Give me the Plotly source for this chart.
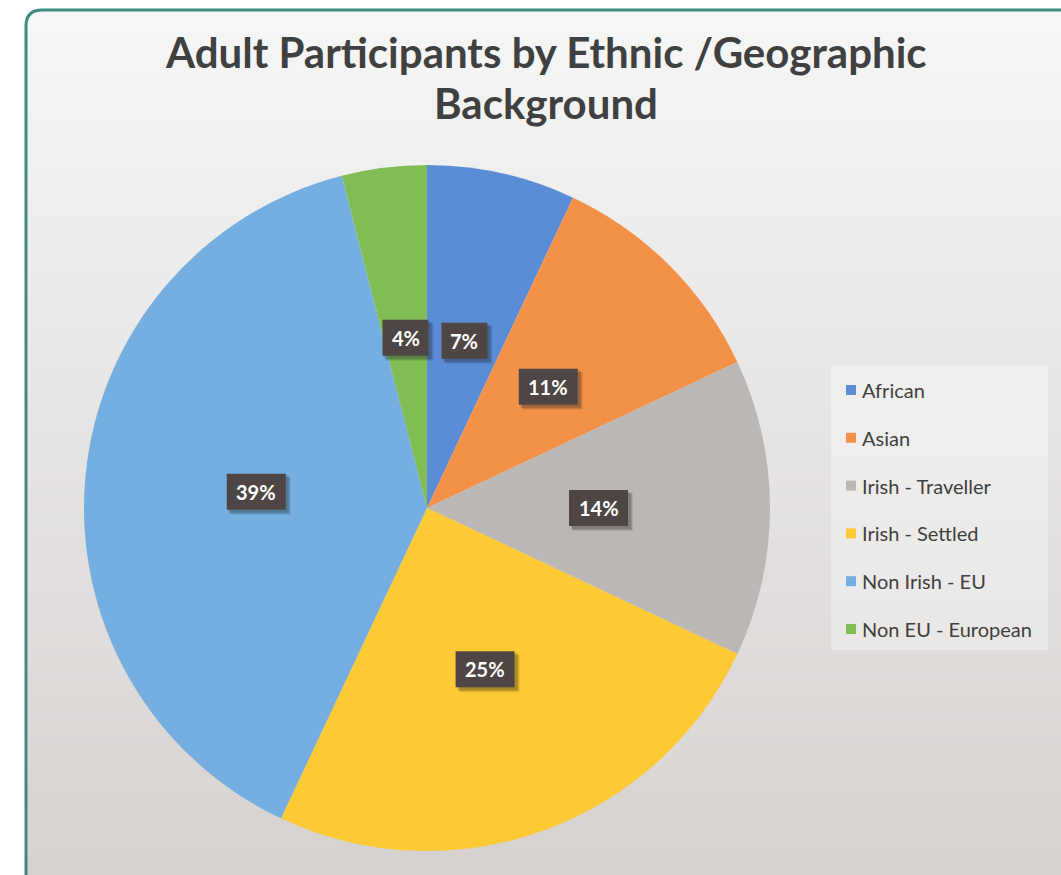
import math
import plotly.graph_objects as go

# Chart data
categories = ["African", "Asian", "Irish - Traveller", "Irish - Settled",
              "Non Irish - EU", "Non EU - European"]
shares = [7, 11, 14, 25, 39, 4]
slice_colors = ["#5b8cd6", "#f39148", "#bab7b5", "#fdc934", "#75aee0", "#80bd55"]
title_lines = ["Adult Participants by Ethnic /Geographic", "Background"]

W, H = 1061, 875
FONT = "Lato"


def px(x):
    return x / W


def py(y):
    return 1 - y / H


# Pie placement (pixels)
cx, cy, R = 427, 508, 343

fig = go.Figure()
fig.add_trace(go.Pie(
    labels=categories,
    values=shares,
    marker=dict(colors=slice_colors, line=dict(width=0)),
    sort=False,
    direction="clockwise",
    rotation=0,
    textinfo="none",
    hoverinfo="label+percent",
    showlegend=False,
    domain=dict(x=[px(cx - R), px(cx + R)], y=[py(cy + R), py(cy - R)]),
))

shapes = []
# Background vertical gradient built from thin bands
top_c = (246, 246, 246)
bot_c = (214, 210, 208)
n_bands = 80
y0, y1 = 10, H
for i in range(n_bands):
    t = i / (n_bands - 1)
    c = tuple(round(a + (b - a) * t) for a, b in zip(top_c, bot_c))
    ya = y0 + (y1 - y0) * i / n_bands
    yb = y0 + (y1 - y0) * (i + 1) / n_bands + 1
    shapes.append(dict(type="rect", xref="paper", yref="paper", layer="below",
                       x0=px(26), x1=px(W + 5), y0=py(yb), y1=py(ya),
                       fillcolor="rgb(%d,%d,%d)" % c, line=dict(width=0)))

# Rounded frame
r = 16
path = ("M {a},{b} L {a},{c} Q {a},{d} {e},{d} L {f},{d}").format(
    a=px(26), b=py(H + 20), c=py(10 + r), d=py(10), e=px(26 + r), f=px(W + 10))
shapes.append(dict(type="path", xref="paper", yref="paper", layer="above",
                   path=path, line=dict(color="#3c8c82", width=3)))

# Legend panel
shapes.append(dict(type="rect", xref="paper", yref="paper", layer="below",
                   x0=px(831), x1=px(1048), y0=py(650), y1=py(365),
                   fillcolor="rgba(255,255,255,0.35)", line=dict(width=0)))

annotations = []

# Title
for i, line in enumerate(title_lines):
    annotations.append(dict(x=px(546), y=py(52 + 51 * i), xref="paper", yref="paper",
                            xanchor="center", yanchor="middle", showarrow=False,
                            text="<b>%s</b>" % line,
                            font=dict(family=FONT, size=42, color="#404040")))

# Legend entries
leg_top, leg_step = 390, 47.8
for i, (name, col) in enumerate(zip(categories, slice_colors)):
    yc = leg_top + i * leg_step
    shapes.append(dict(type="rect", xref="paper", yref="paper", layer="above",
                       x0=px(846), x1=px(856), y0=py(yc + 5), y1=py(yc - 5),
                       fillcolor=col, line=dict(width=0)))
    annotations.append(dict(x=px(860), y=py(yc), xref="paper", yref="paper",
                            xanchor="left", yanchor="middle", showarrow=False,
                            text=name, font=dict(family=FONT, size=20, color="#404040")))

# Percentage labels in dark boxes, placed at half radius of each slice's mid-angle
total = sum(shares)
cum = 0
for v in shares:
    mid = (cum + v / 2) / total * 2 * math.pi
    cum += v
    lx = cx + 0.5 * R * math.sin(mid)
    ly = cy - 0.5 * R * math.cos(mid)
    txt = "%d%%" % round(100 * v / total)
    bw = 20 + 13 * len(txt)
    bh = 36
    # drop shadow
    for k, a in ((5, 0.10), (4, 0.14), (3, 0.18)):
        shapes.append(dict(type="rect", xref="paper", yref="paper", layer="above",
                           x0=px(lx - bw / 2 + k - 1), x1=px(lx + bw / 2 + k),
                           y0=py(ly + bh / 2 + k), y1=py(ly - bh / 2 + k - 1),
                           fillcolor="rgba(30,25,25,%.2f)" % a, line=dict(width=0)))
    shapes.append(dict(type="rect", xref="paper", yref="paper", layer="above",
                       x0=px(lx - bw / 2), x1=px(lx + bw / 2),
                       y0=py(ly + bh / 2), y1=py(ly - bh / 2),
                       fillcolor="#4e4644", line=dict(width=0)))
    annotations.append(dict(x=px(lx), y=py(ly), xref="paper", yref="paper",
                            showarrow=False, xanchor="center", yanchor="middle",
                            text="<b>%s</b>" % txt,
                            font=dict(family=FONT, size=20, color="white")))

fig.update_layout(
    width=W, height=H,
    margin=dict(l=0, r=0, t=0, b=0),
    paper_bgcolor="white",
    plot_bgcolor="rgba(0,0,0,0)",
    shapes=shapes,
    annotations=annotations,
    showlegend=False,
)

fig.write_html("out.html")
